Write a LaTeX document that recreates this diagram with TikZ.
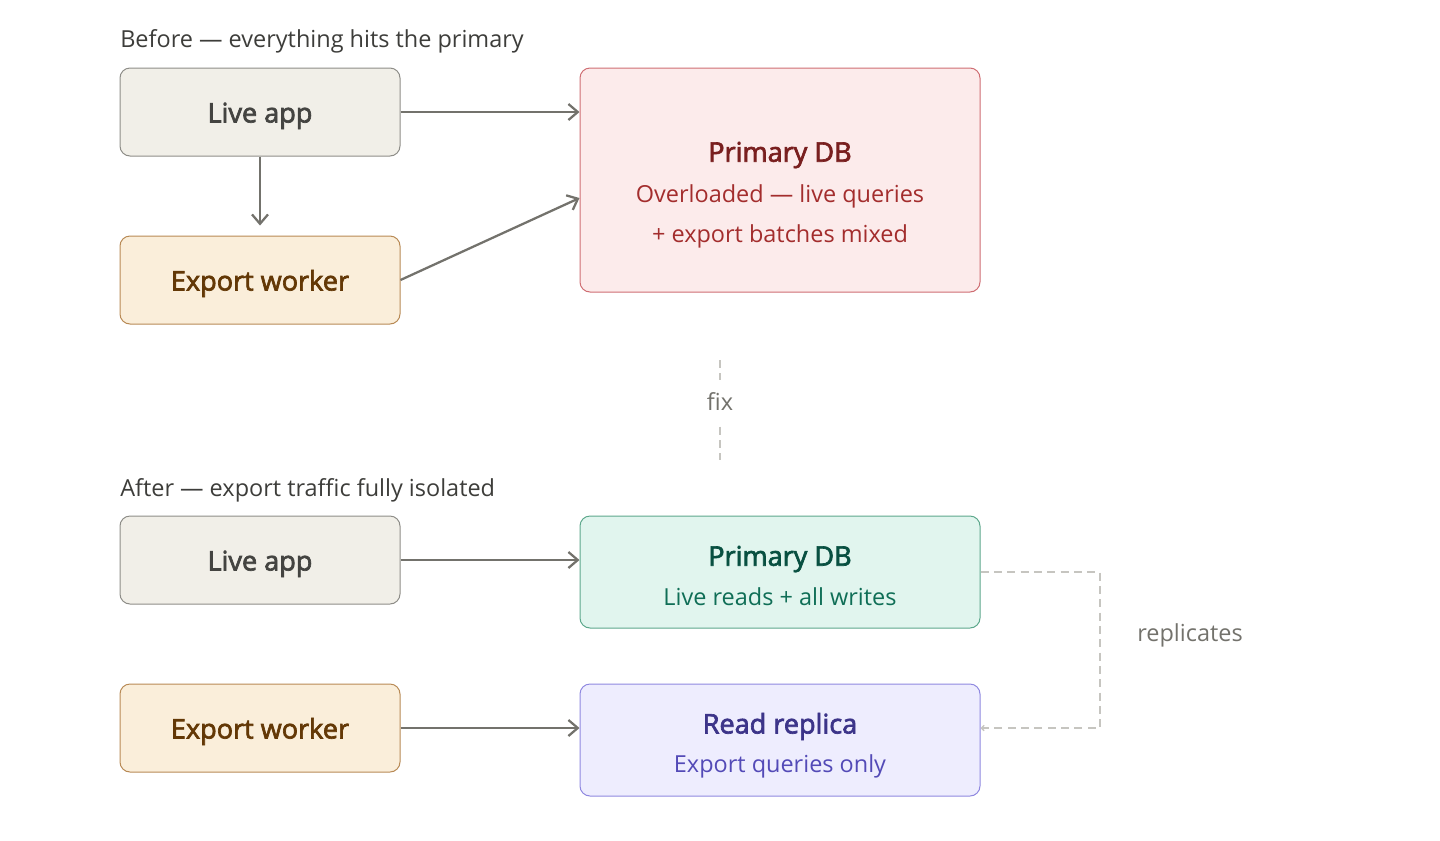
\documentclass[tikz,border=0pt]{standalone}
\usepackage{fontspec}
\setmainfont{Open Sans}
\newfontfamily\medfont{Open Sans}[FakeBold=2.5]
\usetikzlibrary{arrows.meta,calc}
\definecolor{arrowc}{HTML}{73726C}
\definecolor{dashc}{HTML}{C6C5C0}
\definecolor{headc}{HTML}{3D3D3A}
\definecolor{liveF}{HTML}{F1EFE8}
\definecolor{liveD}{HTML}{8E8D88}
\definecolor{liveT}{HTML}{444441}
\definecolor{expF}{HTML}{FAEEDA}
\definecolor{expD}{HTML}{B88A55}
\definecolor{expT}{HTML}{633806}
\definecolor{redF}{HTML}{FCEBEB}
\definecolor{redD}{HTML}{CF6E73}
\definecolor{redT}{HTML}{791F1F}
\definecolor{redS}{HTML}{A32D2D}
\definecolor{grnF}{HTML}{E1F5EE}
\definecolor{grnD}{HTML}{5DA88C}
\definecolor{grnT}{HTML}{085041}
\definecolor{grnS}{HTML}{0F6E56}
\definecolor{purF}{HTML}{EEEDFE}
\definecolor{purD}{HTML}{8F88E0}
\definecolor{purT}{HTML}{3C3489}
\definecolor{purS}{HTML}{534AB7}
\tikzset{
  box/.style={draw, rounded corners=7.5pt, line width=0.75pt, inner sep=0pt},
  smallbox/.style={box, minimum width=210pt, minimum height=66pt},
  bigbox/.style={box, minimum width=300pt},
  heading/.style={text=headc, font=\fontsize{17.6}{20}\selectfont, anchor=base west, inner sep=0pt},
  boxtitle/.style={font=\medfont\fontsize{20.3}{24}\selectfont, inner sep=0pt, anchor=base},
  boxsub/.style={font=\fontsize{17.6}{20}\selectfont, inner sep=0pt, anchor=base},
  note/.style={text=arrowc, font=\fontsize{17.6}{20}\selectfont, inner sep=3pt, anchor=base},
  flow/.style={draw=arrowc, line width=1.7pt, -{Straight Barb[length=7pt,width=12pt,line width=1.7pt]}},
  dashline/.style={draw=dashc, line width=1.2pt, dash pattern=on 6pt off 4pt},
}
\begin{document}
\begin{tikzpicture}[x=0.75pt,y=-0.75pt]
\useasboundingbox (0,0) rectangle (1440,840);
% Before
\node[heading] (h1) at (120,47) {Before — everything hits the primary};
\node[smallbox, fill=liveF, draw=liveD] (la1) at (260,112) {};
\node[boxtitle, text=liveT] (la1t) at (260,122.5) {Live app};
\node[smallbox, fill=expF, draw=expD] (ew1) at (260,280) {};
\node[boxtitle, text=expT] (ew1t) at (260,290.5) {Export worker};
\node[bigbox, minimum height=168pt, fill=redF, draw=redD] (p1) at (780,180) {};
\node[boxtitle, text=redT] (p1t) at (780,161.7) {Primary DB};
\node[boxsub, text=redS] (p1s1) at (780,202.7) {Overloaded — live queries};
\node[boxsub, text=redS] (p1s2) at (780,242.7) {+ export batches mixed};
\coordinate (p1a) at ($(p1.west)+(0,-68)$);
\coordinate (p1b) at ($(p1.west)+(0,18)$);
\draw[flow] (la1.east) -- (p1a);
\draw[flow, shorten >=7.5pt] (la1.south) -- (ew1.north);
\draw[flow] (ew1.east) -- (p1b);
% fix
\coordinate (fixtop) at (720,360);
\coordinate (fixbot) at (720,460);
\draw[dashline] (fixtop) -- (fixbot);
\node[note, fill=white, inner ysep=9pt] (fix) at (720,410) {fix};
% After
\node[heading] (h2) at (120,496) {After — export traffic fully isolated};
\node[smallbox, fill=liveF, draw=liveD] (la2) at (260,560) {};
\node[boxtitle, text=liveT] (la2t) at (260,570.5) {Live app};
\node[smallbox, fill=expF, draw=expD] (ew2) at (260,728) {};
\node[boxtitle, text=expT] (ew2t) at (260,738.5) {Export worker};
\node[bigbox, minimum height=84pt, fill=grnF, draw=grnD] (p2) at (780,572) {};
\node[boxtitle, text=grnT] (p2t) at (780,565.7) {Primary DB};
\node[boxsub, text=grnS] (p2s) at (780,605) {Live reads + all writes};
\node[bigbox, minimum height=84pt, fill=purF, draw=purD] (rr) at (780,740) {};
\node[boxtitle, text=purT] (rrt) at (780,733.5) {Read replica};
\node[boxsub, text=purS] (rrs) at (780,772.7) {Export queries only};
\coordinate (p2a) at ($(p2.west)+(0,-12)$);
\coordinate (rra) at ($(rr.west)+(0,-12)$);
\coordinate (rrb) at ($(rr.east)+(0,-12)$);
\coordinate (repc) at (1100,572);
\draw[flow] (la2.east) -- (p2a);
\draw[flow] (ew2.east) -- (rra);
\draw[dashline, -{Straight Barb[length=2pt,width=4pt,line width=1pt]}] (p2.east) -- (repc) |- (rrb);
\node[note] (rep) at (1190,641) {replicates};
\end{tikzpicture}
\end{document}
